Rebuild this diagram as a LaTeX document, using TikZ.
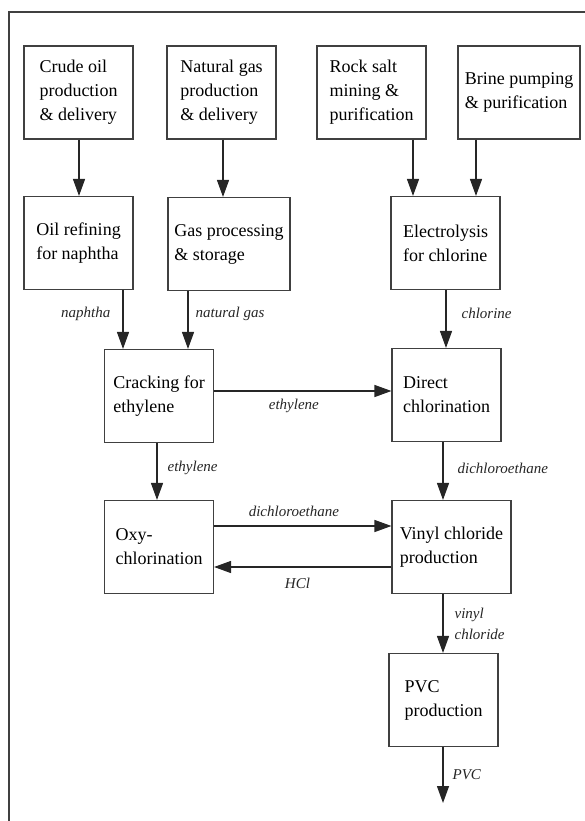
\documentclass[tikz,border=0pt]{standalone}
\usepackage{fontspec}
\setmainfont{Liberation Serif}
\usetikzlibrary{arrows.meta}

\begin{document}
\begin{tikzpicture}[x=1pt,y=-1pt,%
% common options for the process boxes:
proc/.style = {draw=black!75, line width=1.1pt, align=left, inner sep=0,
            minimum width=109pt, minimum height=93pt,
            font=\fontsize{18}{24}\selectfont},
% common options for the flows:
flow/.style = {draw=black!85, line width=1.3pt, -{Triangle[length=17pt,width=12pt]}},
% common options for the flow labels:
lbl/.style = {font=\fontsize{15}{21}\selectfont\itshape, text=black!85,
            inner sep=0, align=left}]
\useasboundingbox (0,0) rectangle (584,821);
\draw[black!75, line width=1.1pt] (9,830) -- (9,12) -- (590,12);
\node[proc] (Crude) at (78.5,92.5) {Crude oil\\production\\\& delivery};
\node[proc] (Gas) at (221.5,92.5) {Natural gas\\production\\\& delivery};
\node[proc] (Salt) at (371.5,92.5) {Rock salt\\mining \&\\purification};
\node[proc,minimum width=122pt] (Brine) at (519,92.5) {Brine pumping\\\& purification};
\node[proc] (Refine) at (78.5,243) {Oil refining\\for naphtha};
\node[proc,minimum width=122pt] (GasProc) at (229,244) {Gas processing\\\& storage};
\node[proc] (Elec) at (445.5,243) {Electrolysis\\for chlorine};
\node[proc] (Crack) at (159,396) {Cracking for\\ethylene};
\node[proc] (Direct) at (446.5,395) {Direct\\chlorination};
\node[proc] (Oxy) at (159,547) {Oxy-\\chlorination};
\node[proc,minimum width=119pt] (VCM) at (451.5,547) {Vinyl chloride\\production};
\node[proc] (PVC) at (443.5,700) {PVC\\production};
\coordinate (Out) at (443,803);
\draw[flow] ([xshift=0.5pt]Crude.south) to ([xshift=0.5pt]Refine.north);
\draw[flow] ([xshift=1.5pt]Gas.south) to ([xshift=1.5pt]Gas.south |- GasProc.north);
\draw[flow] ([xshift=-32.5pt]Elec.north |- Salt.south) to ([xshift=-32.5pt]Elec.north);
\draw[flow] ([xshift=30.5pt]Elec.north |- Brine.south) to ([xshift=30.5pt]Elec.north);
\draw[flow] ([xshift=-36pt]Crack.north |- Refine.south)
    to node[lbl,pos=0.4,left=12pt] {naphtha} ([xshift=-36pt]Crack.north);
\draw[flow] ([xshift=29pt]Crack.north |- GasProc.south)
    to node[lbl,pos=0.4,right=7pt] {natural gas} ([xshift=29pt]Crack.north);
\draw[flow] ([xshift=0.5pt]Elec.south)
    to node[lbl,pos=0.4,right=15pt] {chlorine} ([xshift=0.5pt]Elec.south |- Direct.north);
\draw[flow] ([yshift=5pt]Crack.east)
    to node[lbl,pos=0.45,below=7pt] {ethylene} ([yshift=5pt]Crack.east -| Direct.west);
\draw[flow] ([xshift=-2pt]Crack.south) to node[lbl,pos=0.44,right=10pt] {ethylene} ([xshift=-2pt]Oxy.north);
\draw[flow] ([xshift=-3.5pt]Direct.south)
    to node[lbl,pos=0.45,right=14pt] {dichloroethane} ([xshift=-3.5pt]Direct.south |- VCM.north);
\draw[flow] ([yshift=21pt]Oxy.east)
    to node[lbl,pos=0.45,above=9pt] {dichloroethane} ([yshift=21pt]Oxy.east -| VCM.west);
\draw[flow] ([yshift=-20pt]VCM.west)
    to node[lbl,pos=0.53,below=10pt] {HCl} ([yshift=-20pt]VCM.west -| Oxy.east);
\draw[flow] (Out |- VCM.south) to node[lbl,midway,right=11pt] {vinyl\\chloride} (Out |- PVC.north);
\draw[flow] (Out |- PVC.south) to node[lbl,midway,right=9pt] {PVC} (Out);
\end{tikzpicture}
\end{document}
